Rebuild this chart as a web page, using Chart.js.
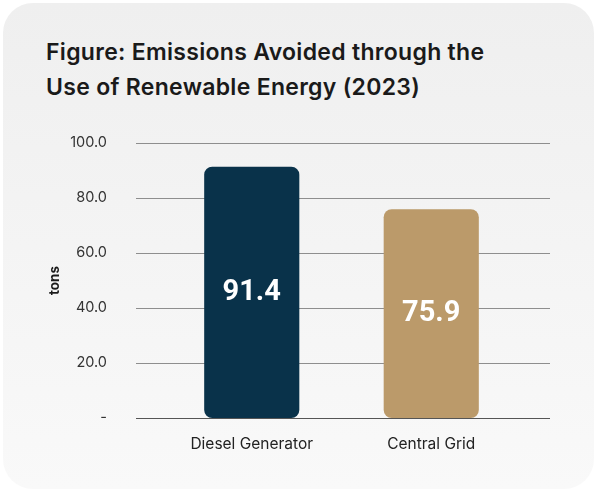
<!DOCTYPE html>
<html>
<head>
<meta charset="utf-8">
<script src="https://cdn.jsdelivr.net/npm/chart.js@4.4.1/dist/chart.umd.min.js"></script>
<style>
  html, body { margin: 0; padding: 0; background: #ffffff; }
  body { width: 595px; height: 490px; position: relative; overflow: hidden; }
  .card {
    position: absolute; left: 3px; top: 3px; width: 591px; height: 486px;
    border-radius: 30px;
    background: linear-gradient(to bottom, #efefef 0%, #f9f9f9 100%);
  }
  .title {
    position: absolute; left: 46px; top: 35px;
    font-family: Inter, "Noto Sans", sans-serif; font-weight: 600;
    font-size: 23px; line-height: 35px; color: #1a1a1a; letter-spacing: 0.3px;
  }
  #emissionsChart { position: absolute; left: 0; top: 0; }
</style>
</head>
<body>
<div class="card"></div>
<div class="title">Figure: Emissions Avoided through the<br>Use of Renewable Energy (2023)</div>
<canvas id="emissionsChart" width="595" height="490"></canvas>
<script>
  // chart data
  const categories = ["Diesel Generator", "Central Grid"];
  const emissions = [91.4, 75.9];
  const barColors = ["#09324a", "#bb9a6a"];
  const yTickValues = [0, 20, 40, 60, 80, 100];
  const yTickLabels = ["-", "20.0", "40.0", "60.0", "80.0", "100.0"];

  // horizontal rules, drawn wider than the plot area
  const gridRules = {
    id: "gridRules",
    beforeDatasetsDraw(chart) {
      const ctx = chart.ctx;
      const y = chart.scales.y;
      ctx.save();
      ctx.lineWidth = 1;
      yTickValues.forEach(function (v) {
        const py = Math.round(y.getPixelForValue(v)) + 0.5;
        ctx.strokeStyle = v === 0 ? "#555555" : "#8e8e8e";
        ctx.beginPath();
        ctx.moveTo(136, py);
        ctx.lineTo(550, py);
        ctx.stroke();
      });
      ctx.restore();
    },
  };

  // value labels centred in each bar
  const barValues = {
    id: "barValues",
    afterDatasetsDraw(chart) {
      const ctx = chart.ctx;
      const meta = chart.getDatasetMeta(0);
      ctx.save();
      ctx.fillStyle = "#ffffff";
      ctx.font = "700 29px Roboto";
      ctx.textAlign = "center";
      ctx.textBaseline = "middle";
      meta.data.forEach(function (bar, i) {
        ctx.fillText(emissions[i].toFixed(1), bar.x, (bar.y + bar.base) / 2);
      });
      ctx.restore();
    },
  };

  const ctx = document.getElementById("emissionsChart").getContext("2d");
  new Chart(ctx, {
    type: "bar",
    data: {
      labels: categories,
      datasets: [
        {
          data: emissions,
          backgroundColor: barColors,
          borderRadius: 8,
          borderSkipped: false,
          barPercentage: 0.53,
          categoryPercentage: 1,
        },
      ],
    },
    options: {
      responsive: false,
      animation: false,
      layout: {
        padding: { left: 0, right: 74, top: 143, bottom: 0 },
      },
      plugins: {
        legend: { display: false },
        tooltip: { enabled: false },
      },
      scales: {
        x: {
          grid: { display: false, drawTicks: false },
          border: { display: false },
          ticks: {
            color: "#222222",
            font: { family: "Inter", size: 15.5 },
            padding: 17,
          },
          afterFit(scale) {
            scale.height = 72;
          },
        },
        y: {
          min: 0,
          max: 100,
          grid: { display: false, drawTicks: false },
          border: { display: false },
          ticks: {
            stepSize: 20,
            color: "#333333",
            font: { family: "Inter", size: 14.5 },
            padding: 55,
            callback: function (value, index) {
              return yTickLabels[index];
            },
          },
          title: {
            display: true,
            text: "tons",
            color: "#1a1a1a",
            font: { family: "Inter", size: 13.5, weight: "700" },
            padding: { top: 47, bottom: 0 },
          },
          afterFit(scale) {
            scale.width = 162;
          },
        },
      },
    },
    plugins: [gridRules, barValues],
  });
</script>
</body>
</html>
